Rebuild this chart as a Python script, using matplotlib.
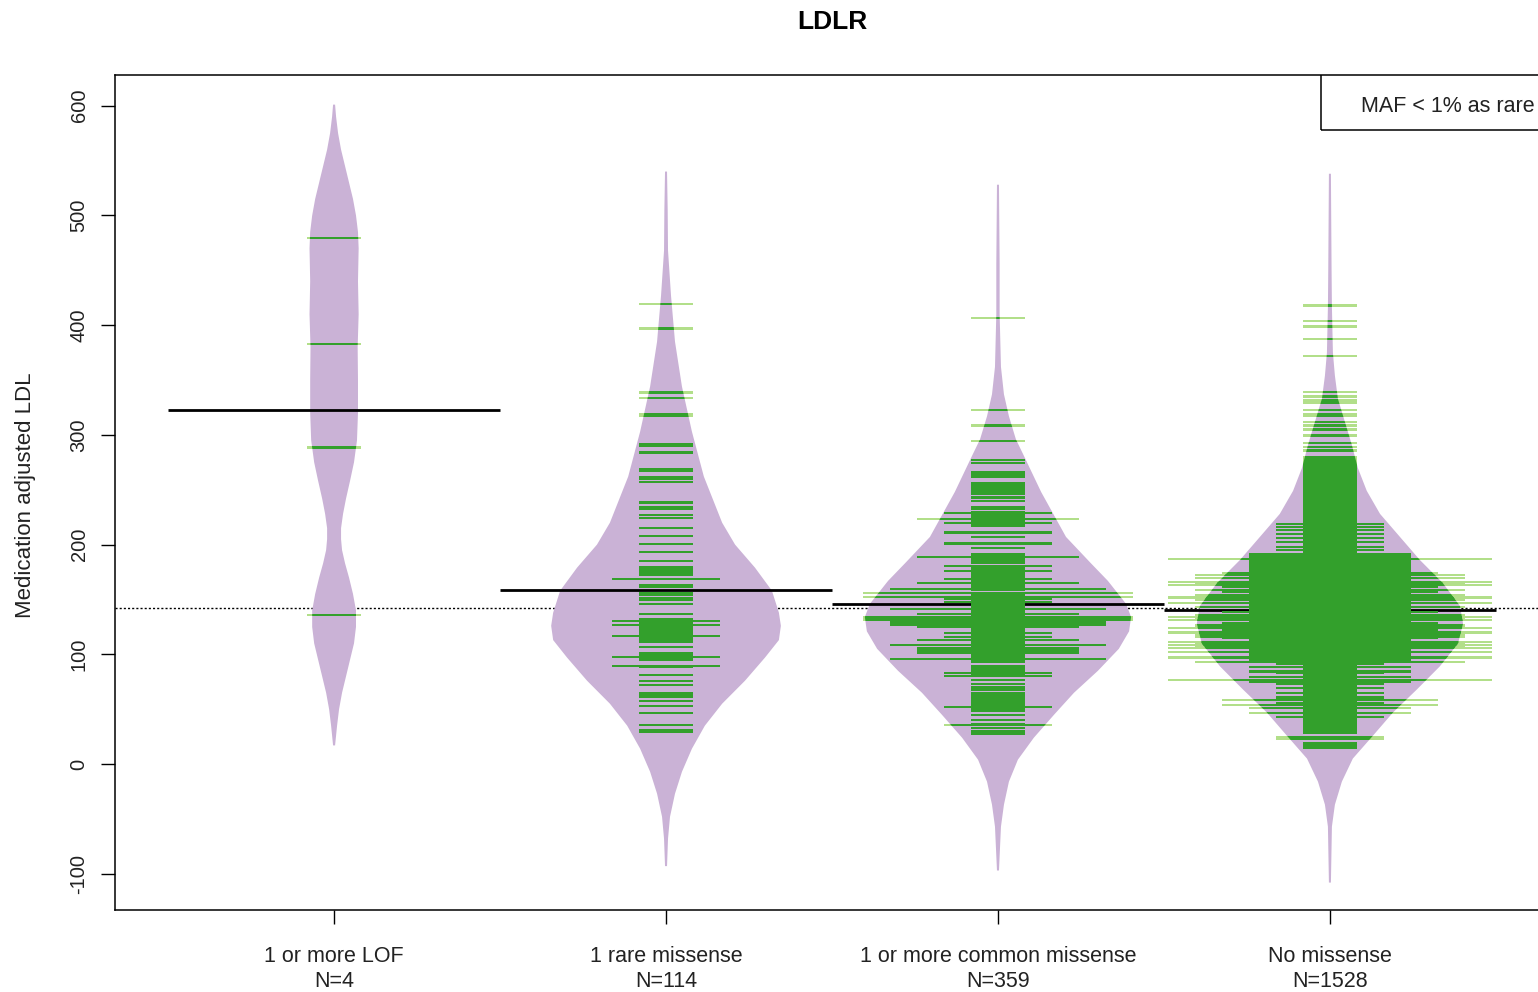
import numpy as np
import matplotlib.pyplot as plt
from matplotlib.patches import Polygon, Rectangle
from matplotlib.collections import PatchCollection

plt.rcParams["font.family"] = ["Liberation Sans", "DejaVu Sans"]

groups = ["1 or more LOF", "1 rare missense", "1 or more common missense", "No missense"]
group_n = [4, 114, 359, 1528]
group_means = [322.5, 159.0, 146.0, 140.3]
overall_mean = 142.0

# bean outlines: value, half width (in x-axis units)
lof_bean_y = [601, 590, 575, 560, 545, 530, 515, 500, 485, 470, 440, 410, 380, 350, 320, 295,
              275, 258, 242, 228, 215, 205, 195, 183, 170, 155, 140, 125, 110, 95, 80, 65, 50, 35, 17]
lof_bean_w = [0.003, 0.006, 0.012, 0.021, 0.033, 0.045, 0.057, 0.066, 0.072, 0.074, 0.072, 0.074,
              0.071, 0.072, 0.072, 0.069, 0.060, 0.048, 0.036, 0.027, 0.021, 0.021, 0.024, 0.033,
              0.045, 0.057, 0.066, 0.066, 0.060, 0.048, 0.036, 0.024, 0.015, 0.009, 0.003]

rare_bean_y = [540, 505, 468, 427, 385, 344, 303, 262, 220, 200, 179, 158, 138, 126, 113, 97,
               76, 55, 35, 14, -7, -27, -48, -68, -93]
rare_bean_w = [0.003, 0.005, 0.006, 0.015, 0.027, 0.048, 0.078, 0.114, 0.169, 0.208, 0.268, 0.319,
               0.340, 0.346, 0.340, 0.298, 0.238, 0.169, 0.117, 0.078, 0.048, 0.027, 0.012, 0.006, 0.003]

common_bean_y = [528, 456, 410, 362, 337, 317, 296, 281, 248, 207, 183, 167, 146, 134, 121, 105,
                 85, 65, 45, 24, 4, -16, -37, -57, -97]
common_bean_w = [0.003, 0.005, 0.005, 0.009, 0.018, 0.033, 0.054, 0.078, 0.130, 0.205, 0.280, 0.331,
                 0.386, 0.401, 0.395, 0.364, 0.301, 0.229, 0.169, 0.108, 0.060, 0.033, 0.018, 0.009, 0.003]

none_bean_y = [538, 450, 417, 375, 354, 333, 312, 291, 270, 249, 228, 207, 186, 165, 144, 128,
               110, 89, 68, 47, 26, 5, -16, -37, -57, -108]
none_bean_w = [0.003, 0.005, 0.006, 0.009, 0.015, 0.024, 0.045, 0.066, 0.084, 0.111, 0.151, 0.211,
               0.271, 0.340, 0.392, 0.401, 0.386, 0.331, 0.262, 0.190, 0.130, 0.069, 0.036, 0.015,
               0.006, 0.003]

# bean lines: (low value, high value, number of identical observations)
lof_lines = [(479.6, 479.6, 1), (382.7, 382.7, 1), (288.5, 288.5, 1), (135.5, 135.5, 1)]

rare_lines = [
    (419.5, 419.5, 1), (397, 397, 1), (338.6, 338.6, 1), (333.7, 333.7, 1), (317, 318.5, 1),
    (290, 291.5, 1), (283.9, 283.9, 1), (269, 269, 1), (267.5, 267.5, 1), (261.7, 261.7, 1),
    (259.6, 259.6, 1), (257.4, 257.4, 1), (238.3, 238.3, 1), (233, 234.5, 1), (227.3, 227.3, 1),
    (224.6, 224.6, 1), (214.9, 214.9, 1), (208.2, 208.2, 1), (200.6, 200.6, 1), (193, 193, 1),
    (185.4, 185.4, 1), (179.9, 179.9, 1), (178.1, 178.1, 1), (176.3, 176.3, 1), (174.2, 174.2, 1),
    (172.3, 172.3, 1), (163.5, 163.5, 1), (161.7, 161.7, 1), (155.6, 155.6, 1), (154.1, 154.1, 1),
    (151.1, 151.1, 1), (149.5, 149.5, 1), (145.9, 145.9, 1), (136.8, 136.8, 1), (111, 132, 1),
    (106.4, 106.4, 1), (101.5, 101.5, 1), (95, 99.4, 1), (88.8, 88.8, 1), (81.2, 81.2, 1),
    (75.7, 75.7, 1), (72, 72, 1), (65, 65, 1), (62.9, 62.9, 1), (61.4, 61.4, 1), (57.7, 57.7, 1),
    (53.2, 53.2, 1), (46.8, 46.8, 1), (35.6, 35.6, 1), (31, 31, 1), (28.9, 28.9, 1),
    (168.7, 168.7, 2), (130.7, 130.7, 2), (126.7, 126.7, 2), (116.7, 116.7, 2), (97.3, 97.3, 2),
    (89.4, 89.4, 2),
]

common_lines = [
    (406.7, 406.7, 1), (322.4, 322.4, 1), (308.6, 308.6, 1), (294.3, 294.3, 1), (277.2, 277.2, 1),
    (274.5, 274.5, 1), (262, 266, 1), (248, 256, 1), (246, 246, 1), (243, 243, 1), (240, 240, 1),
    (232.5, 234.5, 1), (224, 229.6, 1), (217.4, 222, 1), (211, 211, 1), (207, 207, 1),
    (201, 201, 1), (197, 197, 1), (183.5, 191, 1), (158.3, 178.7, 1), (117.6, 156, 1),
    (93, 114, 1), (81, 89, 1), (76.5, 76.5, 1), (73, 73, 1), (70, 70, 1), (68, 68, 1),
    (48, 64.5, 1), (44.4, 44.4, 1), (40.3, 40.3, 1), (36.2, 36.2, 1), (32.9, 32.9, 1),
    (29.7, 29.7, 1), (27.3, 27.3, 1),
    (228.6, 228.6, 2), (219.5, 219.5, 2), (211, 211, 2), (201, 201, 2), (180.8, 180.8, 2),
    (176.3, 176.3, 2), (168.7, 168.7, 2), (150.2, 150.2, 2), (148, 148, 2), (119.2, 119.2, 2),
    (116.1, 116.1, 2), (82.7, 82.7, 2), (80.5, 80.5, 2), (52.3, 52.3, 2), (35.6, 35.6, 2),
    (223.4, 223.4, 3), (189, 189, 3), (165, 165, 3), (136.8, 136.8, 3), (125.2, 125.2, 3),
    (113, 113, 3), (101, 105.5, 3),
    (159.6, 159.6, 4), (141, 141, 4), (126.7, 129.8, 4), (108.5, 108.5, 4), (95.5, 95.5, 4),
    (155.6, 155.6, 5), (152.6, 152.6, 5), (133.7, 133.7, 5), (131.8, 131.8, 5),
]

none_lines = [
    (417.9, 417.9, 1), (403.9, 403.9, 1), (398.8, 398.8, 1), (387.2, 387.2, 1), (372, 372, 1),
    (339, 339, 1), (335, 335, 1), (331.3, 331.3, 1), (328.9, 328.9, 1), (322.8, 322.8, 1),
    (317.5, 318.5, 1), (311.6, 311.6, 1), (308.5, 308.5, 1), (304.5, 305.5, 1), (299.4, 299.4, 1),
    (292.4, 292.4, 1), (289.3, 289.3, 1), (285.7, 285.7, 1), (280.2, 280.2, 1),
    (208, 278, 1), (28, 205.5, 1), (19.4, 19.4, 1), (17, 17, 1), (14.6, 14.6, 1),
    (24.9, 24.9, 2), (22.5, 22.5, 2), (219, 219, 2), (216.4, 216.4, 2), (213.2, 213.2, 2),
    (209.6, 209.6, 2), (206.3, 206.3, 2), (202.5, 202.5, 2), (198, 198, 2), (195, 195, 2),
    (94.8, 191, 2), (91.2, 91.2, 2), (88.2, 88.2, 2), (85.1, 85.1, 2), (82.7, 82.7, 2), (76, 76, 2),
    (72.9, 72.9, 2), (69, 69, 2), (64.5, 64.5, 2), (61.4, 61.4, 2), (59.6, 59.6, 2), (55.3, 55.3, 2),
    (43.1, 43.1, 2),
    (191, 191, 3), (189, 189, 3), (95, 186, 3), (88.8, 88.8, 3), (84.3, 84.3, 3), (79.6, 79.6, 3),
    (75, 75, 3), (50.8, 50.8, 3), (46.2, 46.2, 3),
    (173.9, 173.9, 4), (172.4, 172.4, 4), (164.8, 164.8, 4), (161.8, 161.8, 4), (157.3, 157.3, 4),
    (154.2, 154.2, 4), (146.5, 146.5, 4), (143.5, 143.5, 4), (138.9, 138.9, 4), (135.9, 135.9, 4),
    (132, 132, 4), (128.3, 128.3, 4), (125.3, 125.3, 4), (122.2, 122.2, 4), (117.7, 117.7, 4),
    (114.6, 114.6, 4), (110.6, 110.6, 4), (107, 107, 4), (102.4, 102.4, 4), (97.9, 97.9, 4),
    (58.4, 58.4, 4), (53.9, 53.9, 4),
    (172.4, 172.4, 5), (169.3, 169.3, 5), (164.8, 164.8, 5), (158.7, 158.7, 5), (149.7, 154.2, 5),
    (143.5, 143.5, 5), (131.3, 135.9, 5), (123.8, 126.8, 5), (116.1, 119.2, 5), (106, 110.6, 5),
    (102.4, 102.4, 5), (97.2, 97.2, 5), (93.3, 93.3, 5),
    (186.6, 186.6, 6), (166.2, 166.2, 6), (163.2, 163.2, 6), (152.6, 152.6, 6), (151.1, 151.1, 6),
    (146.5, 146.5, 6), (134.3, 134.3, 6), (131.3, 131.3, 6), (123.8, 123.8, 6), (120.7, 120.7, 6),
    (119.2, 119.2, 6), (111.6, 111.6, 6), (108.5, 108.5, 6), (105.5, 105.5, 6), (102.4, 102.4, 6),
    (97.2, 97.2, 6), (76.9, 76.9, 6),
]

BEAN = "#CAB2D6"
DARK = "#33A02C"
LIGHT = "#B2DF8A"
STEP = 0.0813      # half length of a bean line per observation
THICK = 1.0        # half thickness of a bean line (data units)


def draw_bean(ax, pos, bean_y, bean_w, lines):
    y = np.asarray(bean_y, float)
    w = np.asarray(bean_w, float)
    verts = np.vstack([np.column_stack([pos + w, y]),
                       np.column_stack([pos - w[::-1], y[::-1]])])
    bean = Polygon(verts, closed=True, facecolor=BEAN, edgecolor="none", zorder=2)
    ax.add_patch(bean)

    def rects():
        return [Rectangle((pos - n * STEP, lo - THICK), 2 * n * STEP, hi - lo + 2 * THICK)
                for lo, hi, n in lines]

    outer = PatchCollection(rects(), facecolor=LIGHT, edgecolor="none", zorder=4)
    inner = PatchCollection(rects(), facecolor=DARK, edgecolor="none", zorder=5)
    ax.add_collection(outer)
    ax.add_collection(inner)
    inner.set_clip_path(bean)


fig = plt.figure(figsize=(15.38, 9.92), dpi=100)
ax = fig.add_axes([115 / 1538, 1 - 910 / 992, (1549 - 115) / 1538, (910 - 75) / 992])

ax.axhline(overall_mean, color="black", lw=1, ls=(0, (1.5, 1.5)), zorder=1)

beans = [(lof_bean_y, lof_bean_w, lof_lines), (rare_bean_y, rare_bean_w, rare_lines),
         (common_bean_y, common_bean_w, common_lines), (none_bean_y, none_bean_w, none_lines)]
for i, (by, bw, bl) in enumerate(beans):
    pos = i + 1
    draw_bean(ax, pos, by, bw, bl)
    ax.plot([pos - 0.5, pos + 0.5], [group_means[i], group_means[i]], color="black", lw=2,
            solid_capstyle="butt", zorder=3)

ax.set_xlim(0.34, 4.66)
ax.set_ylim(-133, 628)
ax.set_xticks(range(1, 5))
ax.set_xticklabels([f"{g}\nN={n}" for g, n in zip(groups, group_n)], fontsize=15.5,
                   linespacing=1.25, color="#222222")
ax.set_yticks(range(-100, 601, 100))
ax.set_yticklabels([str(v) for v in range(-100, 601, 100)], fontsize=14.5, color="#222222",
                   rotation=90, va="center")
ax.tick_params(axis="x", length=10, width=1, pad=16)
ax.tick_params(axis="y", length=10, width=1, pad=9)
for s in ax.spines.values():
    s.set_linewidth(1.1)

# legend box, drawn as in the original (cut by the figure edge)
ax.add_patch(Rectangle((0.841, 0.934), 0.3, 0.2, transform=ax.transAxes, fill=False,
                       edgecolor="black", lw=1.1, zorder=6))
ax.text(0.869, 0.962, "MAF < 1% as rare", transform=ax.transAxes, fontsize=15.5,
        va="center", ha="left", color="#222222", zorder=7)

fig.text(832 / 1538, 1 - 22 / 992, "LDLR", fontsize=19, fontweight="bold", ha="center", va="center")
fig.text(25 / 1538, 1 - 495 / 992, "Medication adjusted LDL", fontsize=16, rotation=90,
         ha="center", va="center", color="#222222")

fig.savefig("out.png", dpi=100)
